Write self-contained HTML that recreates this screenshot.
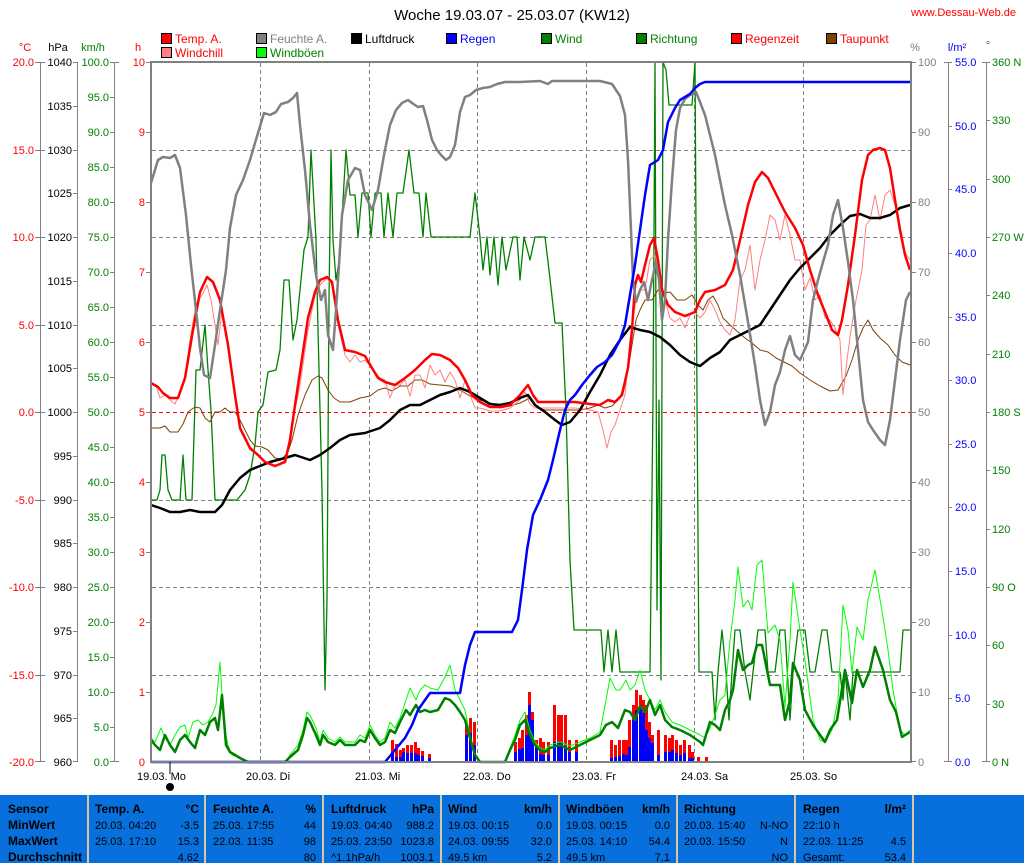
<!DOCTYPE html>
<html><head><meta charset="utf-8"><style>
body{margin:0;background:#fff;width:1024px;height:863px;overflow:hidden}
svg{display:block;font-family:"Liberation Sans",sans-serif}
</style></head><body>
<svg width="1024" height="863" viewBox="0 0 1024 863" xmlns="http://www.w3.org/2000/svg">
<rect width="1024" height="863" fill="#fff"/>
<text x="512" y="20" font-size="15" text-anchor="middle" fill="#000">Woche 19.03.07 - 25.03.07 (KW12)</text>
<text x="1016" y="16" font-size="11" text-anchor="end" fill="#f00">www.Dessau-Web.de</text>
<g font-size="12">
<rect x="161.5" y="33.5" width="10" height="10" fill="#f00" stroke="#000"/><text x="175" y="43" fill="#f00">Temp. A.</text>
<rect x="161.5" y="47.5" width="10" height="10" fill="#ff8080" stroke="#000"/><text x="175" y="57" fill="#f00">Windchill</text>
<rect x="256.5" y="33.5" width="10" height="10" fill="#808080" stroke="#000"/><text x="270" y="43" fill="#808080">Feuchte A.</text>
<rect x="256.5" y="47.5" width="10" height="10" fill="#0f0" stroke="#000"/><text x="270" y="57" fill="#008000">Windböen</text>
<rect x="351.5" y="33.5" width="10" height="10" fill="#000" stroke="#000"/><text x="365" y="43" fill="#000">Luftdruck</text>
<rect x="446.5" y="33.5" width="10" height="10" fill="#00f" stroke="#000"/><text x="460" y="43" fill="#00f">Regen</text>
<rect x="541.5" y="33.5" width="10" height="10" fill="#008000" stroke="#000"/><text x="555" y="43" fill="#008000">Wind</text>
<rect x="636.5" y="33.5" width="10" height="10" fill="#008000" stroke="#000"/><text x="650" y="43" fill="#008000">Richtung</text>
<rect x="731.5" y="33.5" width="10" height="10" fill="#f00" stroke="#000"/><text x="745" y="43" fill="#f00">Regenzeit</text>
<rect x="826.5" y="33.5" width="10" height="10" fill="#804000" stroke="#000"/><text x="840" y="43" fill="#f00">Taupunkt</text>
</g>
<g font-size="11">
<text x="25" y="51" fill="#f00" text-anchor="middle">°C</text>
<text x="58" y="51" fill="#000" text-anchor="middle">hPa</text>
<text x="93" y="51" fill="#008000" text-anchor="middle">km/h</text>
<text x="138" y="51" fill="#f00" text-anchor="middle">h</text>
<text x="915" y="51" fill="#808080" text-anchor="middle">%</text>
<text x="957" y="51" fill="#00f" text-anchor="middle">l/m²</text>
<text x="988" y="49" fill="#008000" text-anchor="middle">°</text>
</g>
<g stroke="#808080" stroke-width="1">
<line x1="40.5" y1="62" x2="40.5" y2="762"/>
<line x1="77.5" y1="62" x2="77.5" y2="762"/>
<line x1="114.5" y1="62" x2="114.5" y2="762"/>
<line x1="948.5" y1="62" x2="948.5" y2="762"/>
<line x1="986.5" y1="62" x2="986.5" y2="762"/>
</g>
<g font-size="11" fill="#f00" text-anchor="end">
<text x="34" y="66">20.0</text><text x="34" y="154">15.0</text><text x="34" y="241">10.0</text><text x="34" y="329">5.0</text><text x="34" y="416">0.0</text><text x="34" y="504">-5.0</text><text x="34" y="591">-10.0</text><text x="34" y="679">-15.0</text><text x="34" y="766">-20.0</text>
</g>
<g stroke="#808080"><line x1="35" y1="62.5" x2="45" y2="62.5"/><line x1="35" y1="150.5" x2="45" y2="150.5"/><line x1="35" y1="237.5" x2="45" y2="237.5"/><line x1="35" y1="325.5" x2="45" y2="325.5"/><line x1="35" y1="412.5" x2="45" y2="412.5"/><line x1="35" y1="500.5" x2="45" y2="500.5"/><line x1="35" y1="587.5" x2="45" y2="587.5"/><line x1="35" y1="675.5" x2="45" y2="675.5"/><line x1="35" y1="761.5" x2="45" y2="761.5"/></g>
<g font-size="11" fill="#000" text-anchor="end">
<text x="72" y="66">1040</text><text x="72" y="110">1035</text><text x="72" y="154">1030</text><text x="72" y="197">1025</text><text x="72" y="241">1020</text><text x="72" y="285">1015</text><text x="72" y="329">1010</text><text x="72" y="372">1005</text><text x="72" y="416">1000</text><text x="72" y="460">995</text><text x="72" y="504">990</text><text x="72" y="547">985</text><text x="72" y="591">980</text><text x="72" y="635">975</text><text x="72" y="679">970</text><text x="72" y="722">965</text><text x="72" y="766">960</text>
</g>
<g stroke="#808080"><line x1="73" y1="62.5" x2="78" y2="62.5"/><line x1="73" y1="106.5" x2="78" y2="106.5"/><line x1="73" y1="150.5" x2="78" y2="150.5"/><line x1="73" y1="193.5" x2="78" y2="193.5"/><line x1="73" y1="237.5" x2="78" y2="237.5"/><line x1="73" y1="281.5" x2="78" y2="281.5"/><line x1="73" y1="325.5" x2="78" y2="325.5"/><line x1="73" y1="368.5" x2="78" y2="368.5"/><line x1="73" y1="412.5" x2="78" y2="412.5"/><line x1="73" y1="456.5" x2="78" y2="456.5"/><line x1="73" y1="500.5" x2="78" y2="500.5"/><line x1="73" y1="543.5" x2="78" y2="543.5"/><line x1="73" y1="587.5" x2="78" y2="587.5"/><line x1="73" y1="631.5" x2="78" y2="631.5"/><line x1="73" y1="675.5" x2="78" y2="675.5"/><line x1="73" y1="718.5" x2="78" y2="718.5"/><line x1="73" y1="761.5" x2="78" y2="761.5"/></g>
<g font-size="11" fill="#008000" text-anchor="end">
<text x="109" y="66">100.0</text><text x="109" y="101">95.0</text><text x="109" y="136">90.0</text><text x="109" y="171">85.0</text><text x="109" y="206">80.0</text><text x="109" y="241">75.0</text><text x="109" y="276">70.0</text><text x="109" y="311">65.0</text><text x="109" y="346">60.0</text><text x="109" y="381">55.0</text><text x="109" y="416">50.0</text><text x="109" y="451">45.0</text><text x="109" y="486">40.0</text><text x="109" y="521">35.0</text><text x="109" y="556">30.0</text><text x="109" y="591">25.0</text><text x="109" y="626">20.0</text><text x="109" y="661">15.0</text><text x="109" y="696">10.0</text><text x="109" y="731">5.0</text><text x="109" y="766">0.0</text>
</g>
<g stroke="#808080"><line x1="110" y1="62.5" x2="119" y2="62.5"/><line x1="110" y1="97.5" x2="115" y2="97.5"/><line x1="110" y1="132.5" x2="115" y2="132.5"/><line x1="110" y1="167.5" x2="115" y2="167.5"/><line x1="110" y1="202.5" x2="115" y2="202.5"/><line x1="110" y1="237.5" x2="115" y2="237.5"/><line x1="110" y1="272.5" x2="115" y2="272.5"/><line x1="110" y1="307.5" x2="115" y2="307.5"/><line x1="110" y1="342.5" x2="115" y2="342.5"/><line x1="110" y1="377.5" x2="115" y2="377.5"/><line x1="110" y1="412.5" x2="115" y2="412.5"/><line x1="110" y1="447.5" x2="115" y2="447.5"/><line x1="110" y1="482.5" x2="115" y2="482.5"/><line x1="110" y1="517.5" x2="115" y2="517.5"/><line x1="110" y1="552.5" x2="115" y2="552.5"/><line x1="110" y1="587.5" x2="115" y2="587.5"/><line x1="110" y1="622.5" x2="115" y2="622.5"/><line x1="110" y1="657.5" x2="115" y2="657.5"/><line x1="110" y1="692.5" x2="115" y2="692.5"/><line x1="110" y1="727.5" x2="115" y2="727.5"/><line x1="110" y1="761.5" x2="119" y2="761.5"/></g>
<g font-size="11" fill="#f00" text-anchor="end">
<text x="145" y="66">10</text><text x="145" y="136">9</text><text x="145" y="206">8</text><text x="145" y="276">7</text><text x="145" y="346">6</text><text x="145" y="416">5</text><text x="145" y="486">4</text><text x="145" y="556">3</text><text x="145" y="626">2</text><text x="145" y="696">1</text><text x="145" y="766">0</text>
</g>
<g font-size="11" fill="#808080">
<text x="918" y="66">100</text><text x="918" y="136">90</text><text x="918" y="206">80</text><text x="918" y="276">70</text><text x="918" y="346">60</text><text x="918" y="416">50</text><text x="918" y="486">40</text><text x="918" y="556">30</text><text x="918" y="626">20</text><text x="918" y="696">10</text><text x="918" y="766">0</text>
</g>
<g font-size="11" fill="#00f">
<text x="955" y="66">55.0</text><text x="955" y="130">50.0</text><text x="955" y="193">45.0</text><text x="955" y="257">40.0</text><text x="955" y="321">35.0</text><text x="955" y="384">30.0</text><text x="955" y="448">25.0</text><text x="955" y="511">20.0</text><text x="955" y="575">15.0</text><text x="955" y="639">10.0</text><text x="955" y="702">5.0</text><text x="955" y="766">0.0</text>
</g>
<g stroke="#808080"><line x1="944" y1="62.5" x2="952" y2="62.5"/><line x1="948" y1="126.5" x2="952" y2="126.5"/><line x1="948" y1="189.5" x2="952" y2="189.5"/><line x1="948" y1="253.5" x2="952" y2="253.5"/><line x1="948" y1="317.5" x2="952" y2="317.5"/><line x1="948" y1="380.5" x2="952" y2="380.5"/><line x1="948" y1="444.5" x2="952" y2="444.5"/><line x1="948" y1="507.5" x2="952" y2="507.5"/><line x1="948" y1="571.5" x2="952" y2="571.5"/><line x1="948" y1="635.5" x2="952" y2="635.5"/><line x1="948" y1="698.5" x2="952" y2="698.5"/><line x1="944" y1="761.5" x2="952" y2="761.5"/>
<line x1="982" y1="62.5" x2="990" y2="62.5"/><line x1="986" y1="120.5" x2="990" y2="120.5"/><line x1="986" y1="179.5" x2="990" y2="179.5"/><line x1="986" y1="237.5" x2="990" y2="237.5"/><line x1="986" y1="295.5" x2="990" y2="295.5"/><line x1="986" y1="354.5" x2="990" y2="354.5"/><line x1="986" y1="412.5" x2="990" y2="412.5"/><line x1="986" y1="470.5" x2="990" y2="470.5"/><line x1="986" y1="529.5" x2="990" y2="529.5"/><line x1="986" y1="587.5" x2="990" y2="587.5"/><line x1="986" y1="645.5" x2="990" y2="645.5"/><line x1="986" y1="704.5" x2="990" y2="704.5"/><line x1="982" y1="761.5" x2="990" y2="761.5"/>
<line x1="911" y1="62.5" x2="916" y2="62.5"/><line x1="911" y1="132.5" x2="916" y2="132.5"/><line x1="911" y1="202.5" x2="916" y2="202.5"/><line x1="911" y1="272.5" x2="916" y2="272.5"/><line x1="911" y1="342.5" x2="916" y2="342.5"/><line x1="911" y1="412.5" x2="916" y2="412.5"/><line x1="911" y1="482.5" x2="916" y2="482.5"/><line x1="911" y1="552.5" x2="916" y2="552.5"/><line x1="911" y1="622.5" x2="916" y2="622.5"/><line x1="911" y1="692.5" x2="916" y2="692.5"/><line x1="911" y1="761.5" x2="916" y2="761.5"/>
<line x1="146" y1="132.5" x2="151" y2="132.5"/><line x1="146" y1="202.5" x2="151" y2="202.5"/><line x1="146" y1="272.5" x2="151" y2="272.5"/><line x1="146" y1="342.5" x2="151" y2="342.5"/><line x1="146" y1="412.5" x2="151" y2="412.5"/><line x1="146" y1="482.5" x2="151" y2="482.5"/><line x1="146" y1="552.5" x2="151" y2="552.5"/><line x1="146" y1="622.5" x2="151" y2="622.5"/><line x1="146" y1="692.5" x2="151" y2="692.5"/><line x1="146" y1="62.5" x2="151" y2="62.5"/>
</g>
<g font-size="11" fill="#008000">
<text x="992" y="66">360 N</text><text x="992" y="124">330</text><text x="992" y="183">300</text><text x="992" y="241">270 W</text><text x="992" y="299">240</text><text x="992" y="358">210</text><text x="992" y="416">180 S</text><text x="992" y="474">150</text><text x="992" y="533">120</text><text x="992" y="591">90 O</text><text x="992" y="649">60</text><text x="992" y="708">30</text><text x="992" y="766">0 N</text>
</g>
<g stroke="#808080" stroke-dasharray="4,3" stroke-width="1">
<line x1="260.5" y1="63" x2="260.5" y2="762"/><line x1="369.5" y1="63" x2="369.5" y2="762"/><line x1="477.5" y1="63" x2="477.5" y2="762"/><line x1="586.5" y1="63" x2="586.5" y2="762"/><line x1="694.5" y1="63" x2="694.5" y2="762"/><line x1="803.5" y1="63" x2="803.5" y2="762"/>
<line x1="152" y1="150.5" x2="910" y2="150.5"/><line x1="152" y1="237.5" x2="910" y2="237.5"/><line x1="152" y1="325.5" x2="910" y2="325.5"/><line x1="152" y1="500.5" x2="910" y2="500.5"/><line x1="152" y1="587.5" x2="910" y2="587.5"/><line x1="152" y1="675.5" x2="910" y2="675.5"/>
</g>
<line x1="152" y1="412.5" x2="910" y2="412.5" stroke="#f00" stroke-dasharray="4,3"/>
<g fill="#f00">
<rect x="391" y="740" width="3" height="22"/><rect x="395" y="744" width="3" height="18"/><rect x="399" y="750" width="3" height="12"/><rect x="402" y="748" width="3" height="14"/><rect x="406" y="745" width="3" height="17"/><rect x="410" y="745" width="3" height="17"/><rect x="414" y="742" width="3" height="20"/><rect x="417" y="748" width="3" height="14"/><rect x="421" y="751" width="3" height="11"/><rect x="428" y="754" width="3" height="8"/>
<rect x="465" y="725" width="3" height="37"/><rect x="469" y="718" width="3" height="44"/><rect x="473" y="722" width="3" height="40"/>
<rect x="514" y="742" width="3" height="20"/><rect x="518" y="738" width="3" height="24"/><rect x="521" y="730" width="3" height="32"/><rect x="525" y="715" width="3" height="47"/><rect x="528" y="692" width="3" height="70"/><rect x="531" y="712" width="3" height="50"/><rect x="535" y="740" width="3" height="22"/><rect x="539" y="738" width="3" height="24"/><rect x="542" y="742" width="3" height="20"/><rect x="547" y="742" width="3" height="20"/><rect x="553" y="705" width="3" height="57"/><rect x="557" y="715" width="3" height="47"/><rect x="560" y="715" width="3" height="47"/><rect x="564" y="715" width="3" height="47"/><rect x="568" y="740" width="3" height="22"/><rect x="575" y="740" width="3" height="22"/>
<rect x="610" y="740" width="3" height="22"/><rect x="614" y="745" width="3" height="17"/><rect x="618" y="740" width="3" height="22"/><rect x="622" y="740" width="3" height="22"/><rect x="625" y="740" width="3" height="22"/><rect x="628" y="720" width="3" height="42"/><rect x="632" y="705" width="3" height="57"/><rect x="635" y="690" width="3" height="72"/><rect x="639" y="695" width="3" height="67"/><rect x="642" y="700" width="3" height="62"/><rect x="645" y="705" width="3" height="57"/><rect x="648" y="722" width="3" height="40"/><rect x="651" y="735" width="3" height="27"/><rect x="657" y="730" width="3" height="32"/><rect x="664" y="735" width="3" height="27"/><rect x="668" y="738" width="3" height="24"/><rect x="671" y="735" width="3" height="27"/><rect x="675" y="740" width="3" height="22"/><rect x="679" y="745" width="3" height="17"/><rect x="683" y="740" width="3" height="22"/><rect x="688" y="745" width="3" height="17"/><rect x="691" y="752" width="3" height="10"/><rect x="697" y="757" width="3" height="5"/><rect x="705" y="757" width="3" height="5"/>
</g>
<g fill="#00f">
<rect x="391" y="752" width="3" height="10"/><rect x="395" y="757" width="3" height="5"/><rect x="399" y="757" width="3" height="5"/><rect x="402" y="752" width="3" height="10"/><rect x="406" y="753" width="3" height="9"/><rect x="410" y="753" width="3" height="9"/><rect x="414" y="753" width="3" height="9"/><rect x="417" y="755" width="3" height="7"/><rect x="421" y="756" width="3" height="6"/><rect x="428" y="758" width="3" height="4"/>
<rect x="465" y="735" width="3" height="27"/><rect x="469" y="733" width="3" height="29"/><rect x="473" y="745" width="3" height="17"/>
<rect x="514" y="752" width="3" height="10"/><rect x="518" y="749" width="3" height="13"/><rect x="521" y="748" width="3" height="14"/><rect x="525" y="735" width="3" height="27"/><rect x="528" y="705" width="3" height="57"/><rect x="531" y="720" width="3" height="42"/><rect x="535" y="745" width="3" height="17"/><rect x="539" y="754" width="3" height="8"/><rect x="542" y="755" width="3" height="7"/><rect x="547" y="755" width="3" height="7"/><rect x="553" y="742" width="3" height="20"/><rect x="557" y="742" width="3" height="20"/><rect x="560" y="742" width="3" height="20"/><rect x="564" y="746" width="3" height="16"/><rect x="568" y="752" width="3" height="10"/><rect x="575" y="752" width="3" height="10"/>
<rect x="610" y="758" width="3" height="4"/><rect x="614" y="757" width="3" height="5"/><rect x="618" y="756" width="3" height="6"/><rect x="622" y="754" width="3" height="8"/><rect x="625" y="755" width="3" height="7"/><rect x="628" y="747" width="3" height="15"/><rect x="632" y="720" width="3" height="42"/><rect x="635" y="710" width="3" height="52"/><rect x="639" y="705" width="3" height="57"/><rect x="642" y="713" width="3" height="49"/><rect x="645" y="730" width="3" height="32"/><rect x="648" y="738" width="3" height="24"/><rect x="651" y="743" width="3" height="19"/><rect x="657" y="755" width="3" height="7"/><rect x="664" y="752" width="3" height="10"/><rect x="668" y="752" width="3" height="10"/><rect x="671" y="750" width="3" height="12"/><rect x="675" y="753" width="3" height="9"/><rect x="679" y="755" width="3" height="7"/><rect x="683" y="753" width="3" height="9"/><rect x="688" y="758" width="3" height="4"/><rect x="691" y="758" width="3" height="4"/>
</g>
<g fill="none" stroke-linejoin="round">
<polyline stroke="#008000" stroke-width="1.3" points="151,500 157,500 160,490 162,455 165,455 168,490 172,500 180,500 183,455 186,500 192,500 196,370 200,370 205,325 208,370 211,410 215,500 237,500 245,490 250,475 255,445 258,412 263,405 268,372 276,370 280,350 284,280 289,280 293,340 297,320 300,290 304,250 308,237 311,150 316,240 318,330 322,490 325,690 327,600 329,300 331,150 333,240 336,280 340,255 343,200 346,150 350,195 355,195 358,237 362,193 368,193 371,237 375,193 381,193 384,237 388,193 393,237 397,193 403,193 409,150 414,193 419,193 423,237 426,193 431,237 443,237 446,237 470,237 475,193 480,237 483,270 487,237 490,275 494,237 498,285 502,237 506,270 513,237 517,237 520,280 524,237 530,260 535,237 540,237 545,237 549,270 555,323 562,323 566,410 570,560 574,630 601,630 604,672 608,630 612,672 616,630 620,672 650,672 653,400 655,62 657,610 659,400 661,680 663,62 666,70 669,105 692,105 695,62 697,400 699,672 712,672 715,720 718,672 722,630 726,672 729,720 732,672 735,630 740,630 745,672 750,700 753,672 758,630 765,630 768,672 775,672 780,630 785,630 790,720 793,672 798,630 805,630 810,672 815,672 822,630 827,630 832,672 840,672 843,700 845,672 850,720 853,672 860,672 870,672 878,672 900,672 903,630 910,630"/>
<polyline stroke="#00ff00" stroke-width="1" points="151,738 155,742 158,735 161,728 165,738 170,745 175,735 180,727 185,725 188,738 193,722 198,720 203,725 208,722 212,715 216,705 220,662 224,725 228,745 232,755 240,758 248,762 285,762 290,755 298,745 303,730 307,712 310,715 316,728 320,742 323,730 328,738 335,742 340,737 345,742 355,742 360,735 365,738 370,725 375,735 380,742 385,738 390,722 395,728 400,718 406,700 410,688 416,700 420,690 425,685 430,688 438,690 445,677 450,665 455,690 460,700 465,710 470,735 475,755 480,762 505,762 510,748 515,735 520,720 525,712 530,730 535,742 540,748 545,750 550,745 560,742 570,746 580,742 590,738 600,732 606,700 610,678 616,690 620,690 626,680 630,690 635,685 640,670 645,690 650,700 655,710 660,700 665,712 672,722 680,725 690,730 700,735 705,738 710,728 715,715 720,700 725,695 730,640 735,600 738,567 743,607 748,600 752,610 757,565 762,560 768,633 775,625 780,640 785,707 790,640 793,582 800,630 805,660 813,720 820,740 825,742 832,730 838,700 843,605 848,630 852,673 857,627 863,640 868,600 875,570 883,617 888,650 893,690 900,730 905,735 910,730"/>
<polyline stroke="#008000" stroke-width="2.5" points="151,740 155,745 160,750 165,735 170,745 175,752 180,740 185,735 190,742 195,748 200,730 205,735 210,722 215,718 218,730 222,695 226,745 230,752 240,758 248,762 285,762 290,757 298,750 303,735 307,718 310,722 316,735 320,745 323,735 328,742 335,745 340,740 345,745 355,745 360,740 365,742 370,730 375,738 380,745 385,742 390,730 395,733 400,722 406,710 410,715 416,705 420,712 425,710 430,712 438,710 445,698 450,700 455,705 460,712 465,720 470,738 475,755 480,762 505,762 510,750 515,740 520,725 525,720 530,735 535,745 540,750 545,752 550,748 560,745 570,750 580,745 590,740 600,735 606,725 612,722 618,728 625,710 630,712 635,720 640,706 645,712 650,700 655,715 660,705 665,720 672,727 680,730 690,735 700,742 703,745 706,735 710,722 715,725 720,730 725,710 730,700 733,690 738,650 743,670 748,665 752,663 757,645 762,645 766,665 770,685 780,685 785,720 790,700 793,663 800,680 805,710 813,725 825,742 830,730 837,720 845,670 852,703 857,670 863,687 870,670 875,647 883,670 890,700 896,712 902,737 910,732"/>
<polyline stroke="#804000" stroke-width="1" points="151,428 160,428 165,426 170,432 178,432 183,424 188,412 195,407 200,408 205,418 210,422 215,412 220,412 225,408 230,412 235,412 240,420 245,430 250,440 255,446 262,447 268,450 275,458 282,459 288,452 292,440 298,415 305,395 312,380 318,376 322,378 328,390 334,398 340,402 350,402 360,398 370,396 378,390 385,388 392,391 400,386 408,386 415,380 422,380 430,384 440,385 450,386 460,390 470,396 480,400 490,403 500,408 510,406 520,403 530,398 537,408 545,410 560,410 580,410 590,408 598,405 605,408 612,406 620,398 628,370 632,345 636,320 640,310 645,300 652,300 658,290 664,293 670,292 677,300 685,300 692,295 698,305 703,310 708,300 713,296 718,305 723,318 730,325 738,332 745,338 752,343 760,350 768,352 776,358 784,362 792,366 800,373 810,380 820,386 830,391 838,390 846,376 852,360 858,340 863,328 868,320 873,330 880,338 888,345 895,355 902,362 910,365"/>
<polyline stroke="#ff8080" stroke-width="1" points="151,382 156,386 160,398 165,395 170,400 175,404 180,392 185,378 190,340 196,305 202,295 207,285 211,300 215,325 218,345 222,310 226,330 230,355 235,400 240,430 250,450 258,455 265,462 275,467 285,460 290,440 295,410 300,385 308,330 315,295 320,285 327,278 332,285 338,325 345,355 350,362 355,355 360,362 365,360 370,366 375,372 380,378 385,380 390,398 395,385 400,385 405,380 410,396 415,375 420,375 425,388 430,365 435,375 440,370 445,382 450,372 455,380 460,398 465,380 470,395 475,408 480,408 490,411 500,411 510,408 520,400 525,392 530,404 535,408 545,408 560,408 575,408 590,410 598,412 603,430 607,448 611,432 615,425 620,410 625,395 630,340 636,300 640,290 645,290 650,260 655,255 660,275 665,300 670,318 675,322 680,318 685,328 690,315 695,312 700,318 705,312 710,300 715,310 720,322 725,330 730,335 735,320 740,280 745,270 750,245 755,290 760,260 765,240 770,215 775,220 780,240 785,215 790,235 795,260 800,260 805,290 810,278 815,300 820,295 825,318 830,320 835,328 840,340 843,395 847,360 851,330 856,300 862,270 866,225 870,220 875,195 880,220 885,195 890,190 895,205 900,225 905,252 910,260"/>
<polyline stroke="#000" stroke-width="2.5" points="151,505 160,508 170,512 180,512 190,510 200,512 215,512 222,505 230,490 240,478 250,470 260,466 270,462 285,458 295,455 310,460 320,455 330,448 340,440 350,435 365,433 380,428 390,420 400,410 410,405 420,405 430,400 440,395 450,392 460,388 470,392 480,398 490,404 500,405 510,403 520,398 528,395 535,405 545,412 555,420 562,425 570,422 580,410 590,392 600,375 610,355 620,340 630,327 640,330 650,332 660,337 670,345 680,355 690,362 700,366 710,358 720,352 730,340 740,335 750,330 760,325 770,310 780,295 790,280 800,268 810,258 820,248 830,235 840,225 850,216 860,214 870,218 880,218 890,215 900,208 910,205"/>
<polyline stroke="#f00" stroke-width="2.5" points="151,383 158,387 163,393 170,398 178,398 185,378 193,330 200,292 207,277 213,282 220,300 228,345 235,395 240,428 250,448 258,455 265,462 275,466 285,462 290,440 295,405 300,372 308,318 315,292 320,280 327,277 332,282 338,320 345,350 355,352 365,356 372,368 378,378 385,382 395,385 405,378 415,370 425,360 432,354 440,355 450,360 458,368 465,380 472,395 480,402 490,407 500,407 510,405 520,395 528,385 533,395 538,402 545,402 560,402 575,402 590,404 600,405 608,400 615,402 622,395 628,368 632,330 635,285 638,275 641,282 645,265 650,245 654,238 658,260 662,290 668,305 675,312 685,316 695,312 700,300 705,292 715,290 725,285 733,270 740,240 748,205 755,182 762,172 768,178 775,192 785,212 795,228 803,245 810,270 818,295 825,312 832,330 838,335 842,320 848,285 855,235 862,180 868,155 873,150 880,148 885,150 890,168 895,200 900,230 905,255 910,270"/>
<polyline stroke="#808080" stroke-width="2.5" points="151,183 158,160 163,157 170,158 175,155 180,168 186,215 191,265 196,310 200,348 204,375 210,378 215,345 220,310 226,270 230,228 236,195 243,180 250,160 255,143 258,133 264,113 270,115 276,112 281,104 288,102 293,98 297,93 300,125 305,170 310,225 316,275 321,300 325,290 328,335 333,350 336,310 339,265 342,215 348,180 355,168 360,170 365,195 372,210 378,190 384,155 390,125 396,110 402,103 408,100 412,103 418,107 423,106 427,120 432,140 437,150 441,155 446,160 450,157 455,145 460,112 465,97 470,95 476,90 483,88 490,87 497,84 505,82 520,82 540,81 548,84 552,81 575,81 600,81 612,84 620,96 625,115 628,160 631,230 633,280 636,302 640,290 644,282 648,300 652,280 656,262 659,280 662,320 665,300 668,240 672,180 676,130 680,108 685,99 690,95 696,92 700,102 705,115 710,135 715,155 720,180 725,205 732,235 740,275 748,322 755,365 760,400 765,425 770,412 775,385 780,372 785,350 790,336 795,355 800,360 808,342 813,300 818,280 823,262 828,245 833,215 838,200 843,228 848,262 853,300 858,350 863,400 868,422 873,430 880,440 885,445 890,420 895,380 900,340 906,300 910,292"/>
<polyline stroke="#00f" stroke-width="2.5" points="151,762 385,762 395,750 405,738 412,725 418,710 425,700 430,693 460,693 465,665 470,645 475,632 512,632 518,620 522,590 527,550 533,515 540,500 548,480 553,460 560,430 565,410 570,400 575,395 582,385 590,375 597,367 605,362 612,355 620,340 625,325 630,295 635,265 640,230 645,195 650,165 658,160 663,150 668,122 675,108 680,100 690,94 695,88 700,84 705,82 910,82"/>
</g>
<line x1="151" y1="762" x2="910" y2="762" stroke="#00f" stroke-width="1.5" stroke-dasharray="2,3"/>
<rect x="151" y="62" width="760" height="700" fill="none" stroke="#808080" stroke-width="2"/>
<g font-size="11" fill="#000">
<text x="137" y="780">19.03.  Mo</text><text x="246" y="780">20.03.  Di</text><text x="355" y="780">21.03.  Mi</text><text x="463" y="780">22.03.  Do</text><text x="572" y="780">23.03.  Fr</text><text x="681" y="780">24.03.  Sa</text><text x="790" y="780">25.03.  So</text>
</g>
<line x1="170" y1="762" x2="170" y2="774" stroke="#000"/>
<circle cx="170" cy="787" r="4" fill="#000"/>
<rect x="0" y="795" width="1024" height="68" fill="#0770dc"/>
<g fill="#d8c8a0"><rect x="87" y="795" width="2" height="68"/><rect x="204" y="795" width="2" height="68"/><rect x="322" y="795" width="2" height="68"/><rect x="440" y="795" width="2" height="68"/><rect x="558" y="795" width="2" height="68"/><rect x="676" y="795" width="2" height="68"/><rect x="794" y="795" width="2" height="68"/><rect x="912" y="795" width="2" height="68"/></g>
<g font-size="12" fill="#000" font-weight="bold">
<text x="8" y="813">Sensor</text><text x="8" y="829">MinWert</text><text x="8" y="845">MaxWert</text><text x="8" y="861">Durchschnitt</text>
<text x="95" y="813">Temp. A.</text><text x="199" y="813" text-anchor="end">°C</text>
<text x="213" y="813">Feuchte A.</text><text x="316" y="813" text-anchor="end">%</text>
<text x="331" y="813">Luftdruck</text><text x="434" y="813" text-anchor="end">hPa</text>
<text x="448" y="813">Wind</text><text x="552" y="813" text-anchor="end">km/h</text>
<text x="566" y="813">Windböen</text><text x="670" y="813" text-anchor="end">km/h</text>
<text x="684" y="813">Richtung</text>
<text x="803" y="813">Regen</text><text x="906" y="813" text-anchor="end">l/m²</text>
</g>
<g font-size="11" fill="#000">
<text x="95" y="829">20.03.  04:20</text><text x="199" y="829" text-anchor="end">-3.5</text>
<text x="95" y="845">25.03.  17:10</text><text x="199" y="845" text-anchor="end">15.3</text>
<text x="199" y="861" text-anchor="end">4.62</text>
<text x="213" y="829">25.03.  17:55</text><text x="316" y="829" text-anchor="end">44</text>
<text x="213" y="845">22.03.  11:35</text><text x="316" y="845" text-anchor="end">98</text>
<text x="316" y="861" text-anchor="end">80</text>
<text x="331" y="829">19.03.  04:40</text><text x="434" y="829" text-anchor="end">988.2</text>
<text x="331" y="845">25.03.  23:50</text><text x="434" y="845" text-anchor="end">1023.8</text>
<text x="331" y="861">^1.1hPa/h</text><text x="434" y="861" text-anchor="end">1003.1</text>
<text x="448" y="829">19.03.  00:15</text><text x="552" y="829" text-anchor="end">0.0</text>
<text x="448" y="845">24.03.  09:55</text><text x="552" y="845" text-anchor="end">32.0</text>
<text x="448" y="861">49.5 km</text><text x="552" y="861" text-anchor="end">5.2</text>
<text x="566" y="829">19.03.  00:15</text><text x="670" y="829" text-anchor="end">0.0</text>
<text x="566" y="845">25.03.  14:10</text><text x="670" y="845" text-anchor="end">54.4</text>
<text x="566" y="861">49.5 km</text><text x="670" y="861" text-anchor="end">7.1</text>
<text x="684" y="829">20.03.  15:40</text><text x="788" y="829" text-anchor="end">N-NO</text>
<text x="684" y="845">20.03.  15:50</text><text x="788" y="845" text-anchor="end">N</text>
<text x="788" y="861" text-anchor="end">NO</text>
<text x="803" y="829">22:10 h</text>
<text x="803" y="845">22.03.  11:25</text><text x="906" y="845" text-anchor="end">4.5</text>
<text x="803" y="861">Gesamt:</text><text x="906" y="861" text-anchor="end">53.4</text>
</g>
</svg>
</body></html>
